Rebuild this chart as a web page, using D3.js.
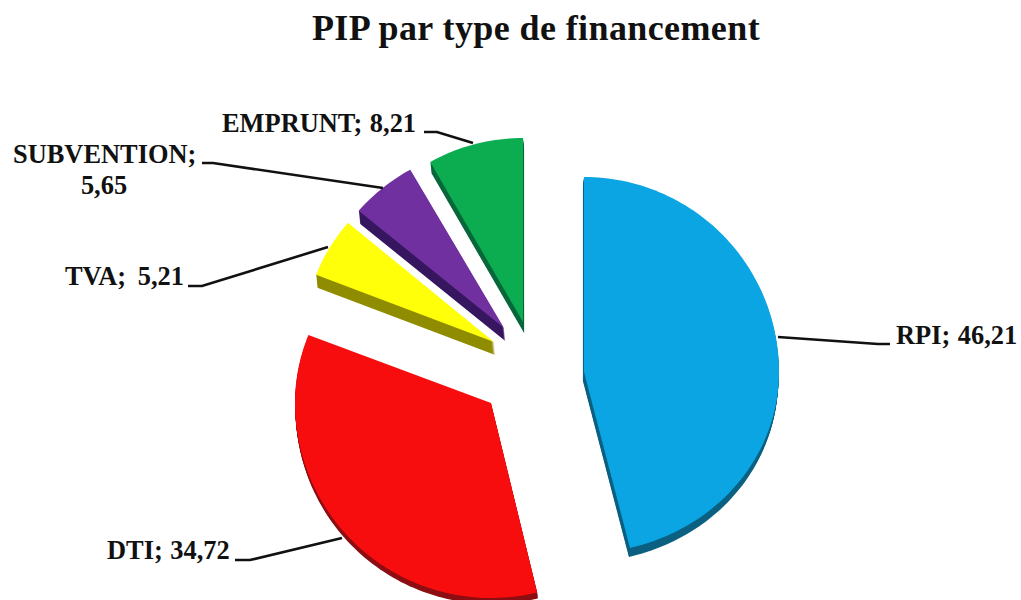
<!DOCTYPE html>
<html>
<head>
<meta charset="UTF-8">
<title>PIP par type de financement</title>
<script src="https://d3js.org/d3.v7.min.js"></script>
<style>
  html, body { margin: 0; padding: 0; background: #fff; }
  svg { display: block; }
  text { font-family: "Liberation Serif", serif; font-weight: bold; fill: #111; }
</style>
</head>
<body>
<div id="chart"></div>
<script>
// data
const categories = ["RPI", "DTI", "TVA", "SUBVENTION", "EMPRUNT"];
const values = [46.21, 34.72, 5.21, 5.65, 8.21];
const valueLabels = ["46,21", "34,72", "5,21", "5,65", "8,21"];

// colours
const topColors = ["#0aa5e2", "#f70d0d", "#ffff0a", "#7030a0", "#0bad50"];
const sideColors = ["#0b5f80", "#8c0d12", "#8f8c00", "#36165f", "#07673a"];

// layout of each exploded slice (the 3d tilt gives uneven radii)
const apexX = [584, 491, 494, 504, 523];
const apexY = [372, 403, 342, 328, 322];
const radiusX = [195, 196, 191, 190, 188];
const radiusUp = [195, 187, 185, 182, 184];
const radiusDown = [181, 195, 185, 182, 184];
const depth = [9, 6, 13, 13, 11];
const wallShift = [-0.12, 0.1, 0.1, 0.1, 0.1];

const leaders = [
  [[778, 337], [878, 344], [890, 344]],
  [[342, 538], [250, 560], [235, 560]],
  [[328, 247], [202, 286], [188, 286]],
  [[383, 188], [213, 163], [202, 163]],
  [[473, 143], [437, 132], [424, 132]]
];
const labelX = [896, 107, 65, 13, 222];
const labelY = [344, 559, 285, 163, 132];
const labelGap = [1, 1, 5, 0, 1];

const width = 1021;
const height = 600;

const svg = d3.select("#chart").append("svg")
  .attr("width", width)
  .attr("height", height);

svg.append("text")
  .attr("x", 536)
  .attr("y", 40)
  .attr("text-anchor", "middle")
  .attr("font-size", 36)
  .attr("letter-spacing", 0.4)
  .text("PIP par type de financement");

const pie = d3.pie().sort(null);
const arcs = pie(values);

function outline(d, i) {
  const x = d3.scaleLinear().domain([-1, 1]).range([apexX[i] - radiusX[i], apexX[i] + radiusX[i]]);
  const y = d3.scaleLinear().domain([-1, 0, 1]).range([apexY[i] - radiusUp[i], apexY[i], apexY[i] + radiusDown[i]]);
  const steps = Math.ceil((d.endAngle - d.startAngle) * 40);
  const pts = [[0, 0]];
  d3.range(steps + 1).forEach(k => {
    const a = d.startAngle + (d.endAngle - d.startAngle) * k / steps;
    pts.push([Math.sin(a), -Math.cos(a)]);
  });
  return d3.line().x(p => x(p[0])).y(p => y(p[1]))(pts) + "Z";
}

const slices = svg.selectAll(".slice")
  .data(arcs)
  .enter()
  .append("g")
  .attr("class", "slice");

// side wall, stacked copies of the top face
slices.each(function (d, i) {
  d3.select(this).selectAll("path.side")
    .data(d3.range(1, depth[i] + 1))
    .enter()
    .append("path")
    .attr("class", "side")
    .attr("d", outline(d, i))
    .attr("transform", k => `translate(${k * wallShift[i]}, ${k})`)
    .attr("fill", sideColors[i]);
});

slices.append("path")
  .attr("d", outline)
  .attr("fill", (d, i) => topColors[i]);

svg.selectAll(".leader")
  .data(leaders)
  .enter()
  .append("path")
  .attr("class", "leader")
  .attr("d", d3.line())
  .attr("fill", "none")
  .attr("stroke", "#111")
  .attr("stroke-width", 2.6);

const labels = svg.selectAll(".label")
  .data(categories)
  .enter()
  .append("text")
  .attr("class", "label")
  .attr("font-size", 26.4)
  .attr("word-spacing", (d, i) => labelGap[i])
  .attr("y", (d, i) => labelY[i]);

labels.each(function (d, i) {
  const t = d3.select(this);
  if (d === "SUBVENTION") {
    // wraps on two lines in the original
    t.append("tspan").attr("x", labelX[i]).text(d + ";");
    t.append("tspan").attr("x", labelX[i] + 91).attr("dy", 31).attr("text-anchor", "middle").text(valueLabels[i]);
  } else {
    t.attr("x", labelX[i]).text(d + "; " + valueLabels[i]);
  }
});
</script>
</body>
</html>
